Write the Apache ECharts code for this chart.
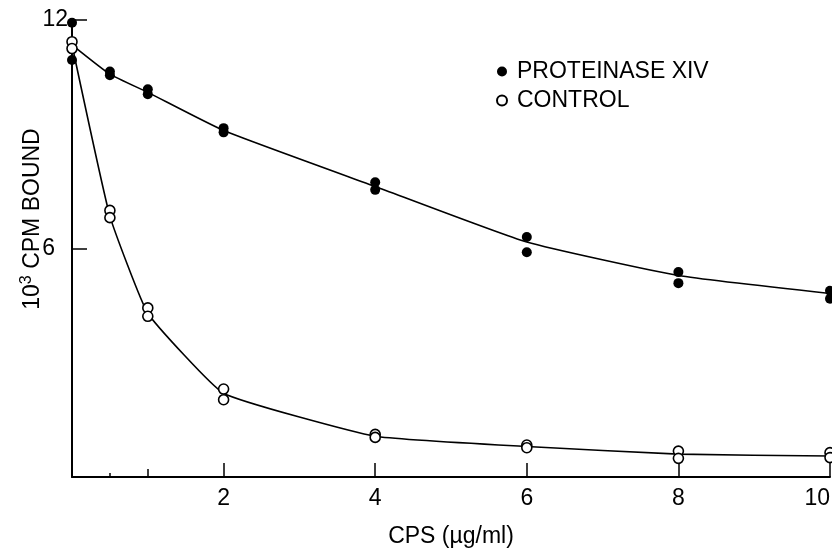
<!DOCTYPE html>
<html>
<head>
<meta charset="utf-8">
<script src="https://cdn.jsdelivr.net/npm/echarts@6/dist/echarts.min.js"></script>
<style>html,body{margin:0;padding:0;background:#fff}#c{width:832px;height:548px}</style>
</head>
<body>
<div id="c"></div>
<script>
// CPS concentration (µg/ml)
var dose = [0, 0.5, 1, 2, 4, 6, 8, 10];
// Proteinase XIV replicates (10^3 CPM bound)
var protA = [11.93, 10.65, 10.18, 9.16, 7.74, 6.30, 5.38, 4.89];
var protB = [10.95, 10.55, 10.05, 9.05, 7.54, 5.90, 5.09, 4.68];
var protCurve = [11.35, 10.58, 10.1, 9.1, 7.63, 6.17, 5.29, 4.82];
// Control replicates
var ctrlA = [11.43, 7.0, 4.44, 2.31, 1.12, 0.84, 0.68, 0.64];
var ctrlB = [11.25, 6.81, 4.22, 2.03, 1.04, 0.77, 0.49, 0.51];
var ctrlCurve = [11.35, 6.85, 4.3, 2.2, 1.07, 0.8, 0.6, 0.55];
// tick labels
var xTickLabels = ['2', '4', '6', '8', '10'];
var yTickLabels = ['6', '12'];

var FONT = 'Liberation Sans';
function pairs(a, b) {
  var out = [];
  dose.forEach(function (x, i) { out.push([x, a[i]]); out.push([x, b[i]]); });
  return out;
}
function curve(c) { return dose.map(function (x, i) { return [x, c[i]]; }); }

var chart = echarts.init(document.getElementById('c'), null, {renderer: 'canvas'});
chart.setOption({
  animation: false,
  backgroundColor: '#fff',
  grid: {left: 72, right: 2, top: 20, bottom: 71, containLabel: false, outerBoundsMode: 'none'},
  legend: {
    data: ['PROTEINASE XIV', 'CONTROL'],
    orient: 'vertical', left: 491, top: 55, itemGap: 6,
    itemWidth: 10, itemHeight: 10,
    textStyle: {fontFamily: FONT, fontSize: 23, color: '#000', padding: [0, 0, 0, 5]},
    selectedMode: false
  },
  xAxis: [{
    type: 'value', min: 0, max: 10, interval: 2,
    name: 'CPS (µg/ml)', nameLocation: 'middle', nameGap: 48,
    nameTextStyle: {fontFamily: FONT, fontSize: 23, color: '#000'},
    axisLine: {lineStyle: {color: '#000', width: 2}},
    axisTick: {inside: true, length: 14, lineStyle: {color: '#000', width: 1.5}},
    axisLabel: {
      fontFamily: FONT, fontSize: 23, color: '#000', margin: 10,
      alignMaxLabel: 'right',
      formatter: function (v) { var s = String(v); return xTickLabels.indexOf(s) >= 0 ? s : ''; }
    },
    splitLine: {show: false}
  }, {
    type: 'value', min: 0, max: 10, position: 'bottom', gridIndex: 0,
    axisLine: {show: false},
    axisTick: {inside: true, length: 8, customValues: [1], lineStyle: {color: '#000', width: 1.5}},
    axisLabel: {show: false}, splitLine: {show: false}
  }, {
    type: 'value', min: 0, max: 10, position: 'bottom', gridIndex: 0,
    axisLine: {show: false},
    axisTick: {inside: true, length: 4, customValues: [0.5], lineStyle: {color: '#000', width: 1.5}},
    axisLabel: {show: false}, splitLine: {show: false}
  }],
  yAxis: {
    type: 'value', min: 0, max: 12, interval: 6,
    axisLine: {show: true, lineStyle: {color: '#000', width: 2}},
    axisTick: {show: true, inside: true, length: 15, lineStyle: {color: '#000', width: 1.5}},
    axisLabel: {
      fontFamily: FONT, fontSize: 23, color: '#000', margin: 4,
      formatter: function (v) {
        var s = String(v);
        if (s === '6') return '{s|6}';
        return yTickLabels.indexOf(s) >= 0 ? s : '';
      },
      rich: {s: {fontFamily: FONT, fontSize: 23, color: '#000', padding: [0, 13, 0, 0]}}
    },
    splitLine: {show: false}
  },
  graphic: [{
    type: 'text', x: 33, y: 219, rotation: Math.PI / 2,
    style: {
      text: '{a|10}{b|3}{a| CPM BOUND}',
      align: 'center', verticalAlign: 'middle',
      rich: {
        a: {fontFamily: FONT, fontSize: 23, fill: '#000', lineHeight: 26},
        b: {fontFamily: FONT, fontSize: 16, fill: '#000', verticalAlign: 'top', padding: [0, 0, 12, 0]}
      }
    }
  }],
  series: [{
    name: 'PROTEINASE XIV curve', type: 'line', smooth: 0.15, silent: true,
    showSymbol: false, data: curve(protCurve),
    lineStyle: {color: '#000', width: 1.6}, z: 2
  }, {
    name: 'CONTROL curve', type: 'line', smooth: 0.12, silent: true,
    showSymbol: false, data: curve(ctrlCurve),
    lineStyle: {color: '#000', width: 1.6}, z: 2
  }, {
    name: 'PROTEINASE XIV', type: 'scatter', symbol: 'circle', symbolSize: 10,
    data: pairs(protA, protB),
    itemStyle: {color: '#000', opacity: 1}, z: 3
  }, {
    name: 'CONTROL', type: 'scatter', symbol: 'circle', symbolSize: 10,
    data: pairs(ctrlA, ctrlB),
    itemStyle: {color: '#fff', borderColor: '#000', borderWidth: 1.6, opacity: 1}, z: 4
  }]
});
</script>
</body>
</html>
